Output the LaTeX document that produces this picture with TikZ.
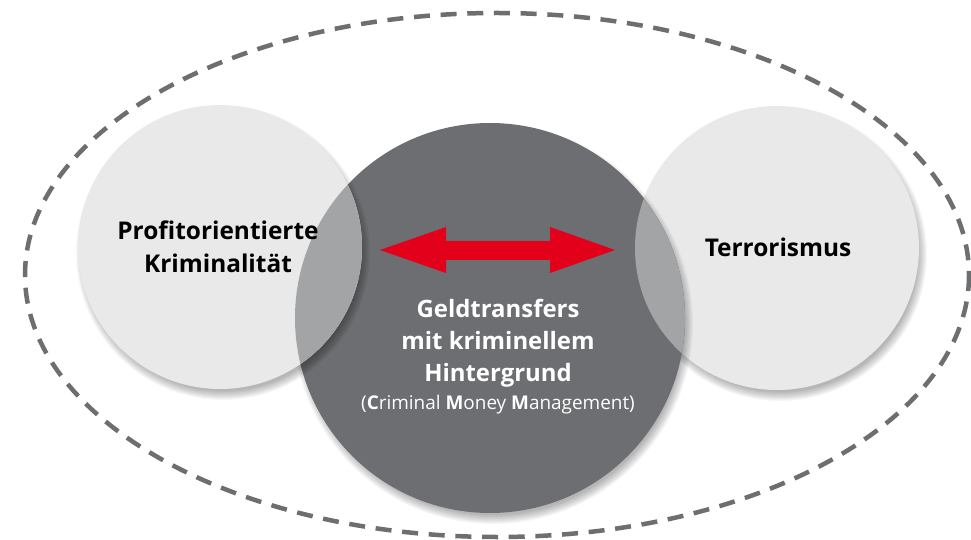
\documentclass[tikz,border=0pt]{standalone}
\usepackage{fontspec}
\setmainfont{Open Sans}
\definecolor{lightc}{HTML}{E9E9EA}
\definecolor{darkc}{HTML}{6D6E71}
\definecolor{midc}{HTML}{A3A4A6}
\definecolor{arrowred}{HTML}{E2001A}
\definecolor{dashc}{HTML}{6D6E70}
\newcommand{\softshadow}[3]{%
  \foreach \k in {0,...,9}{%
    \fill[black,opacity=0.03] ($(#1)+(#2)$) circle ({#3+5-\k});
  }}
\usetikzlibrary{calc}
\tikzset{
  outerset/.style={draw=dashc, line width=4.5bp, dash pattern=on 16bp off 10.7bp},
  lightlabel/.style={font=\bfseries\fontsize{24.5}{33}\selectfont, text=black, align=center, inner sep=0pt},
  darklabel/.style={font=\bfseries\fontsize{24}{32}\selectfont, text=white, align=center, inner sep=0pt},
  sublabel/.style={font=\fontsize{19}{22}\selectfont, text=white, inner sep=0pt, anchor=base},
}
\begin{document}
\begin{tikzpicture}[x=1bp,y=-1bp]
\useasboundingbox (0,0) rectangle (971,540);
\fill[white] (0,0) rectangle (971,540);
\coordinate (L) at (220,247);
\coordinate (M) at (490,318);
\coordinate (R) at (777,248);
% outer dashed set
\draw[outerset] (497,275) ellipse [x radius=472, y radius=262];
% right circle
\softshadow{R}{3,6}{142}
\fill[lightc] (R) circle (142);
% middle circle
\softshadow{M}{3,6}{195}
\fill[darkc] (M) circle (195);
% left circle
\softshadow{L}{3,6}{142}
\fill[lightc] (L) circle (142);
% overlaps
\begin{scope}
  \clip (M) circle (195);
  \fill[midc] (L) circle (142);
  \fill[midc] (R) circle (142);
\end{scope}
% double arrow
\fill[arrowred] (380,250) -- (446,227) -- (446,241) -- (550,241) -- (550,227) -- (615,250)
  -- (550,273) -- (550,260) -- (446,260) -- (446,273) -- cycle;
% labels
\node[lightlabel, anchor=base] (ltext) at (218,240) {Profitorientierte};
\node[lightlabel, anchor=base] (ltext2) at (218,273) {Kriminalität};
\node[lightlabel, anchor=base] (rtext) at (778,257) {Terrorismus};
\node[darklabel, anchor=base] (mtext) at (498,318) {Geldtransfers};
\node[darklabel, anchor=base] (mtext2) at (498,350) {mit kriminellem};
\node[darklabel, anchor=base] (mtext3) at (498,382) {Hintergrund};
\node[sublabel] (msub) at (498,409) {(\textbf{C}riminal \textbf{M}oney \textbf{M}anagement)};
\end{tikzpicture}
\end{document}
